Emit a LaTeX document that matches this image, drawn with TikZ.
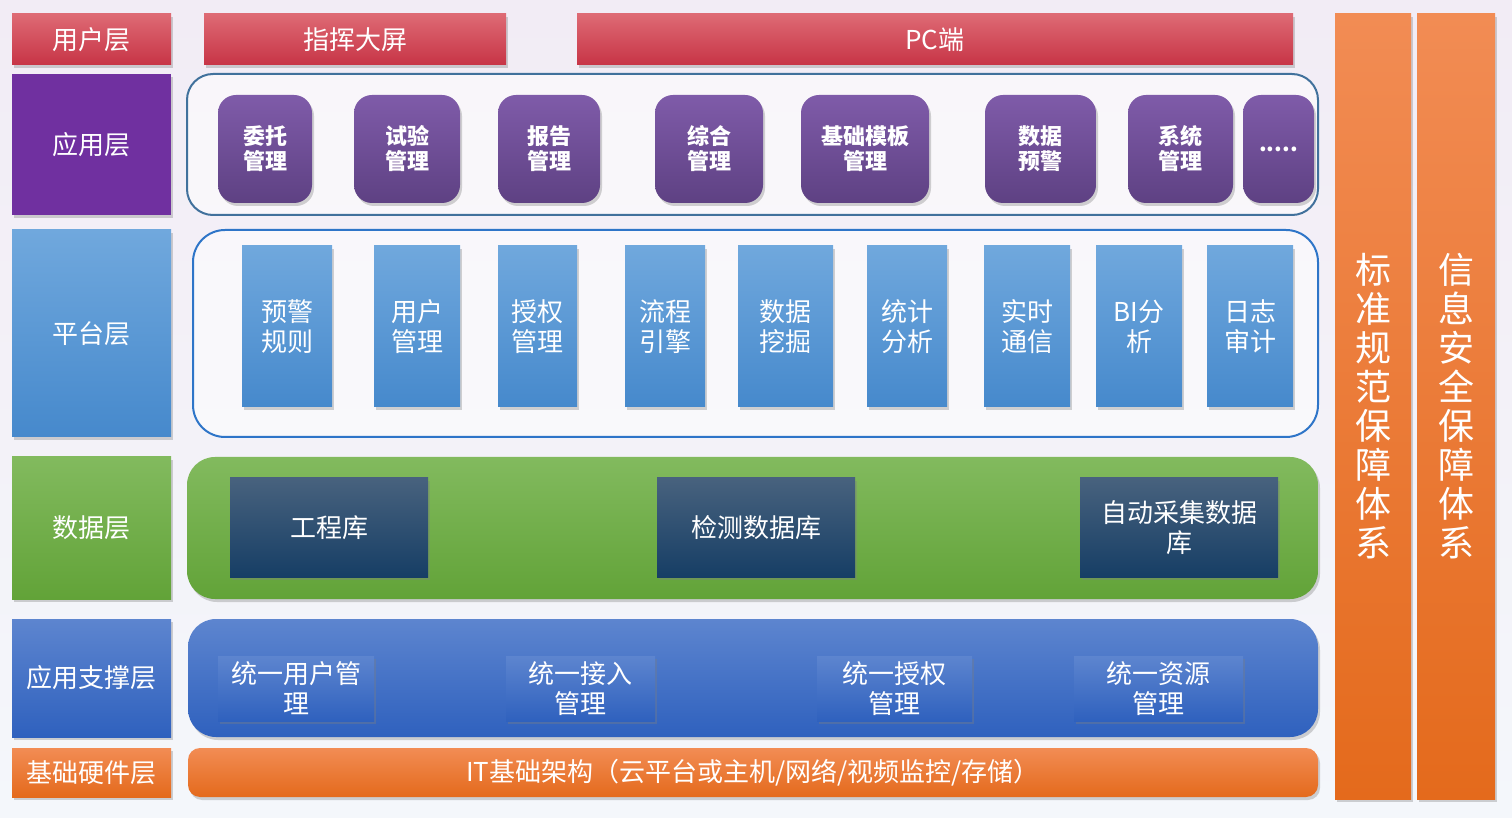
\documentclass[tikz,border=0pt]{standalone}
\usepackage{fontspec}
\setmainfont{Noto Sans CJK SC}
\usetikzlibrary{positioning, shadows, backgrounds}

\definecolor{redtop}{RGB}{222,106,116}
\definecolor{redbot}{RGB}{199,52,70}
\definecolor{layerpurple}{RGB}{112,48,160}
\definecolor{apptop}{RGB}{127,91,169}
\definecolor{appbot}{RGB}{94,65,131}
\definecolor{platop}{RGB}{112,168,221}
\definecolor{platbot}{RGB}{70,137,204}
\definecolor{greentop}{RGB}{130,186,94}
\definecolor{greenbot}{RGB}{98,163,56}
\definecolor{navytop}{RGB}{72,98,126}
\definecolor{navybot}{RGB}{22,62,101}
\definecolor{supptop}{RGB}{93,133,207}
\definecolor{suppbot}{RGB}{47,97,190}
\definecolor{orangetop}{RGB}{242,140,84}
\definecolor{orangebot}{RGB}{228,106,28}
\definecolor{framegray}{RGB}{65,113,156}
\definecolor{frameblue}{RGB}{46,117,200}
\definecolor{bgtop}{RGB}{242,236,245}
\definecolor{bgbot}{RGB}{244,247,251}

\begin{document}
\begin{tikzpicture}[x=0.5pt, y=-0.5pt,
  font=\fontsize{13}{15}\selectfont,
  size/.style 2 args={minimum width=#1*0.5pt, minimum height=#2*0.5pt},
  base/.style={inner sep=0pt, text=white, align=center},
  sh/.style={drop shadow={shadow xshift=1pt, shadow yshift=-1.5pt, opacity=0.35}},
  redbar/.style={base, sh, top color=redtop, bottom color=redbot},
  appitem/.style={base, sh, rounded corners=9pt, top color=apptop, bottom color=appbot,
    font=\fontsize{11}{12.5}\selectfont\bfseries},
  platitem/.style={base, sh, top color=platop, bottom color=platbot},
  dbitem/.style={base, sh, top color=navytop, bottom color=navybot},
  suppitem/.style={base, sh, top color=supptop, bottom color=suppbot},
  frame/.style={inner sep=0pt, line width=1pt, fill=white, fill opacity=0.55},
  column/.style={base, sh, top color=orangetop, bottom color=orangebot,
    font=\fontsize{18}{19.5}\selectfont}]
\useasboundingbox (0,0) rectangle (1512,818);
\fill[top color=bgtop, bottom color=bgbot] (0,0) rectangle (1512,818);

% layer names
\node[redbar, size={159}{51}] (userlayer) at (91.5,39.5) {用户层};
\node[base, sh, fill=layerpurple, size={159}{141}] (applayer) at (91.5,144.5) {应用层};
\node[platitem, size={159}{207}] (platlayer) at (91.5,333.5) {平台层};
\node[base, sh, top color=greentop, bottom color=greenbot, size={159}{142}] (datalayer) at (91.5,528) {数据层};
\node[suppitem, size={159}{118}] (supplayer) at (91.5,678) {应用支撑层};
\node[base, sh, top color=orangetop, bottom color=orangebot, size={159}{49}] (hwlayer) at (91.5,772.5) {基础硬件层};

% user layer
\node[redbar, size={302}{51}] (bigscreen) at (355,39.5) {指挥大屏};
\node[redbar, size={716}{51}] (pcend) at (935,39.5) {PC端};

% application layer
\node[frame, draw=framegray, rounded corners=13pt, size={1131}{141}] (appframe) at (752.5,144.5) {};
\node[appitem, size={94}{108}] (entrust) at (265,149) {委托\\管理};
\node[appitem, size={106}{108}] (test) at (407,149) {试验\\管理};
\node[appitem, size={102}{108}] (report) at (549,149) {报告\\管理};
\node[appitem, size={108}{108}] (general) at (709,149) {综合\\管理};
\node[appitem, size={128}{108}] (template) at (865,149) {基础模板\\管理};
\node[appitem, size={111}{108}] (warning) at (1040.5,149) {数据\\预警};
\node[appitem, size={105}{108}] (system) at (1180.5,149) {系统\\管理};
\node[appitem, size={71}{108}] (more) at (1278.5,149) {.....};

% platform layer
\node[frame, draw=frameblue, rounded corners=16pt, size={1125}{207}] (platframe) at (755.5,333.5) {};
\node[platitem, size={90}{161}] (rules) at (287,326.5) {预警\\规则};
\node[platitem, size={86}{161}] (users) at (417,326.5) {用户\\管理};
\node[platitem, size={79}{161}] (auth) at (537.5,326.5) {授权\\管理};
\node[platitem, size={80}{161}] (flow) at (665,326.5) {流程\\引擎};
\node[platitem, size={95}{161}] (mining) at (785.5,326.5) {数据\\挖掘};
\node[platitem, size={80}{161}] (stats) at (907,326.5) {统计\\分析};
\node[platitem, size={86}{161}] (realtime) at (1027,326.5) {实时\\通信};
\node[platitem, size={86}{161}] (bi) at (1139,326.5) {BI分\\析};
\node[platitem, size={86}{161}] (audit) at (1250,326.5) {日志\\审计};

% data layer
\node[base, sh, rounded corners=14pt, top color=greentop, bottom color=greenbot, size={1131}{142}] (dataframe) at (752.5,528) {};
\node[dbitem, size={198}{99}] (projdb) at (329,527.5) {工程库};
\node[dbitem, size={198}{99}] (testdb) at (756,527.5) {检测数据库};
\node[dbitem, size={198}{99}] (autodb) at (1179,527.5) {自动采集数据\\库};

% support layer
\node[suppitem, rounded corners=14pt, size={1130}{118}] (suppframe) at (753,678) {};
\node[suppitem, size={156}{65}] (unuser) at (296,688.5) {统一用户管\\理};
\node[suppitem, size={149}{65}] (unaccess) at (580.5,688.5) {统一接入\\管理};
\node[suppitem, size={155}{65}] (unauth) at (894.5,688.5) {统一授权\\管理};
\node[suppitem, size={169}{65}] (unres) at (1158.5,688.5) {统一资源\\管理};

% hardware layer
\node[base, sh, rounded corners=6pt, top color=orangetop, bottom color=orangebot, size={1130}{49}] (itbase) at (753,772.5) {IT基础架构（云平台或主机/网络/视频监控/存储）};

% side columns
\node[column, size={76}{785}] (standard) at (1373,406.5) {标\\准\\规\\范\\保\\障\\体\\系};
\node[column, size={78}{785}] (security) at (1456,406.5) {信\\息\\安\\全\\保\\障\\体\\系};
\end{tikzpicture}
\end{document}
